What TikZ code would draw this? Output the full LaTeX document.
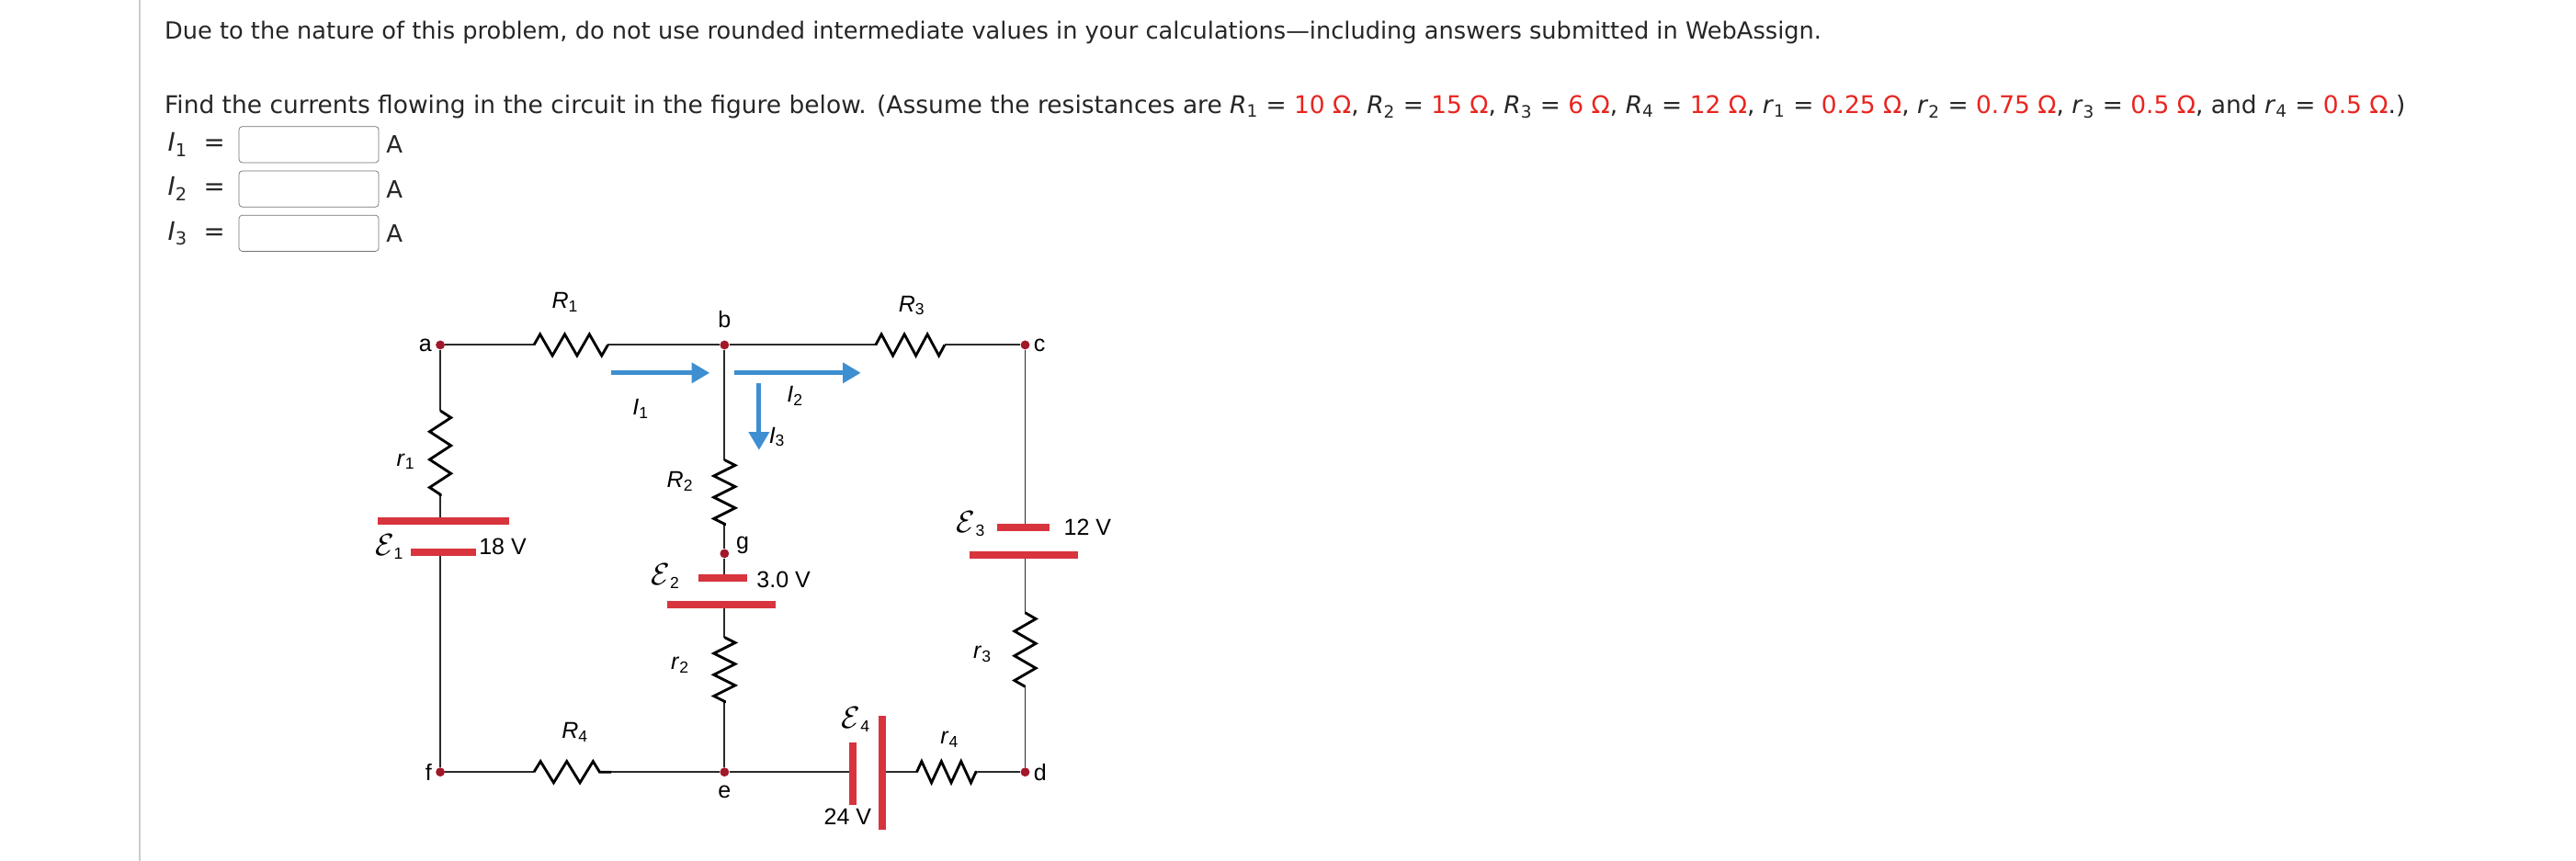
\documentclass[tikz,border=0pt]{standalone}
\usepackage{fontspec}
\setmainfont{DejaVu Sans}
\newfontfamily\figfont{Liberation Sans}
\usetikzlibrary{decorations.pathmorphing,arrows.meta,calc}
\definecolor{wred}{HTML}{E8251F}
\definecolor{pred}{HTML}{D8343E}
\definecolor{dotred}{HTML}{A0182A}
\definecolor{ablue}{HTML}{3D8FD1}
\definecolor{wire}{HTML}{2A2A2A}
\newcommand{\vv}[2]{\textit{#1}\textsubscript{#2}}
\newcommand{\rv}[1]{\textcolor{wred}{#1}}
\newcommand{\emfl}[1]{\scalebox{1.3}{$\mathcal{E}$}\textsubscript{#1}}
\tikzset{
 wireline/.style={draw=wire,line width=1.1pt},
 zig/.style={draw=black,line width=1.6pt,decorate,decoration={zigzag,segment length=#1,amplitude=6.5pt}},
 plate/.style={draw=pred,line width=4.5pt},
 cur/.style={draw=ablue,line width=2.8pt,-{Triangle[length=11pt,width=12pt]}},
 junction/.style={circle,fill=dotred,inner sep=0pt,minimum size=5.5pt},
 lbl/.style={font=\figfont\fontsize{14}{15}\selectfont,inner sep=1pt},
 txt/.style={font=\fontsize{14.5}{16}\selectfont,anchor=base west,inner sep=0pt,text=black!85},
 ansbox/.style={draw=black!55,rounded corners=2pt,minimum width=85pt,minimum height=22pt,inner sep=0pt}
}
\begin{document}
\begin{tikzpicture}[x=1pt,y=-1pt]
\useasboundingbox[fill=white] (0,0) rectangle (1568,524);
\draw[black!20,line width=1pt] (85,0) -- (85,524);
\node[txt,font=\fontsize{14.35}{16}\selectfont] (t1) at (100,24) {Due to the nature of this problem, do not use rounded intermediate values in your calculations—including answers submitted in WebAssign.};
\node[txt,font=\fontsize{14.8}{16}\selectfont] (t2) at (100,69) {Find the currents flowing in the circuit in the figure below. (Assume the resistances are \vv{R}{1} = \rv{10 Ω}, \vv{R}{2} = \rv{15 Ω}, \vv{R}{3} = \rv{6 Ω}, \vv{R}{4} = \rv{12 Ω}, \vv{r}{1} = \rv{0.25 Ω}, \vv{r}{2} = \rv{0.75 Ω}, \vv{r}{3} = \rv{0.5 Ω}, and \vv{r}{4} = \rv{0.5 Ω}.)};
\foreach \i/\y in {1/88,2/115,3/142}{
 \node[txt,anchor=west,font=\fontsize{15.5}{17}\selectfont] (q\i) at (102,\y) {\vv{I}{\i}\ \ =};
 \node[ansbox] (b\i) at (188,\y) {};
 \node[txt,anchor=west] (u\i) at (235,\y) {A};
}
% junctions
\node[junction] (a) at (268,210) {};
\node[junction] (b) at (441,210) {};
\node[junction] (c) at (624,210) {};
\node[junction] (f) at (268,470) {};
\node[junction] (e) at (441,470) {};
\node[junction] (d) at (624,470) {};
\node[junction] (g) at (441,337) {};
\node[lbl,anchor=east] (la) at (264,210) {a};
\node[lbl,anchor=south] (lb) at (441,201) {b};
\node[lbl,anchor=west] (lc) at (628,210) {c};
\node[lbl,anchor=east] (lf) at (264,470) {f};
\node[lbl,anchor=north] (le) at (441,477) {e};
\node[lbl,anchor=west] (ld) at (628,470) {d};
\node[lbl,anchor=west] (lg) at (447,332) {g};
% coordinates
\coordinate (r1a) at (268,250); \coordinate (r1b) at (268,302);
\coordinate (e1l) at (268,317); \coordinate (e1s) at (268,336);
\coordinate (R1a) at (325,210); \coordinate (R1b) at (370,210);
\coordinate (R3a) at (533,210); \coordinate (R3b) at (575,210);
\coordinate (R2a) at (441,280); \coordinate (R2b) at (441,320);
\coordinate (e2s) at (441,352); \coordinate (e2l) at (441,368);
\coordinate (r2a) at (441,388); \coordinate (r2b) at (441,428);
\coordinate (e3s) at (624,321); \coordinate (e3l) at (624,338);
\coordinate (r3a) at (624,373); \coordinate (r3b) at (624,418);
\coordinate (R4a) at (325,470); \coordinate (R4b) at (372,470);
\coordinate (e4s) at (519,470); \coordinate (e4l) at (537,470);
\coordinate (r4a) at (558,470); \coordinate (r4b) at (595,470);
% wires
\draw[wireline] (a) -- (R1a) (R1b) -- (b) -- (R3a) (R3b) -- (c);
\draw[wireline] (a) -- (r1a) (r1b) -- (e1l) (e1s) -- (f);
\draw[wireline] (b) -- (R2a) (R2b) -- (g) -- (e2s) (e2l) -- (r2a) (r2b) -- (e);
\draw[wireline] (c) -- (e3s) (e3l) -- (r3a) (r3b) -- (d);
\draw[wireline] (f) -- (R4a) (R4b) -- (e) -- (e4s) (e4l) -- (r4a) (r4b) -- (d);
% resistors
\draw[zig=15pt] (R1a) -- (R1b);
\draw[zig=14pt] (R3a) -- (R3b);
\draw[zig=16pt] (R4a) -- (R4b);
\draw[zig=12pt] (r4a) -- (r4b);
\draw[zig=17pt] (r1a) -- (r1b);
\draw[zig=13pt] (R2a) -- (R2b);
\draw[zig=13pt] (r2a) -- (r2b);
\draw[zig=15pt] (r3a) -- (r3b);
% batteries
\draw[plate] ($(e1l)+(-38,0)$) -- ($(e1l)+(42,0)$);
\draw[plate] ($(e1s)+(-18,0)$) -- ($(e1s)+(22,0)$);
\draw[plate] ($(e2s)+(-16,0)$) -- ($(e2s)+(14,0)$);
\draw[plate] ($(e2l)+(-35,0)$) -- ($(e2l)+(31,0)$);
\draw[plate] ($(e3s)+(-17,0)$) -- ($(e3s)+(15,0)$);
\draw[plate] ($(e3l)+(-34,0)$) -- ($(e3l)+(32,0)$);
\draw[plate] ($(e4s)+(0,-18)$) -- ($(e4s)+(0,20)$);
\draw[plate] ($(e4l)+(0,-34)$) -- ($(e4l)+(0,35)$);
% labels
\node[lbl] (lR1) at (344,184) {\textit{R}\textsubscript{1}};
\node[lbl] (lR3) at (555,186) {\textit{R}\textsubscript{3}};
\node[lbl] (lR2) at (414,293) {\textit{R}\textsubscript{2}};
\node[lbl] (lR4) at (350,446) {\textit{R}\textsubscript{4}};
\node[lbl] (lr1) at (247,281) {\textit{r}\textsubscript{1}};
\node[lbl] (lr2) at (414,405) {\textit{r}\textsubscript{2}};
\node[lbl] (lr3) at (598,398) {\textit{r}\textsubscript{3}};
\node[lbl] (lr4) at (578,450) {\textit{r}\textsubscript{4}};
\node[lbl] (lE1) at (237,333) {\emfl{1}};
\node[lbl] (lE2) at (405,351) {\emfl{2}};
\node[lbl] (lE3) at (591,319) {\emfl{3}};
\node[lbl] (lE4) at (521,438) {\emfl{4}};
\node[lbl] (v1) at (306,333) {18 V};
\node[lbl] (v2) at (477,353) {3.0 V};
\node[lbl] (v3) at (662,321) {12 V};
\node[lbl] (v4) at (516,497) {24 V};
% currents
\coordinate (i1a) at (372,227); \coordinate (i1b) at (432,227);
\coordinate (i2a) at (447,227); \coordinate (i2b) at (524,227);
\coordinate (i3a) at (462,233); \coordinate (i3b) at (462,274);
\draw[cur] (i1a) -- (i1b);
\draw[cur] (i2a) -- (i2b);
\draw[cur] (i3a) -- (i3b);
\node[lbl] (lI1) at (390,249) {\textit{I}\textsubscript{1}};
\node[lbl] (lI2) at (484,241) {\textit{I}\textsubscript{2}};
\node[lbl] (lI3) at (473,266) {\textit{I}\textsubscript{3}};
\end{tikzpicture}
\end{document}
